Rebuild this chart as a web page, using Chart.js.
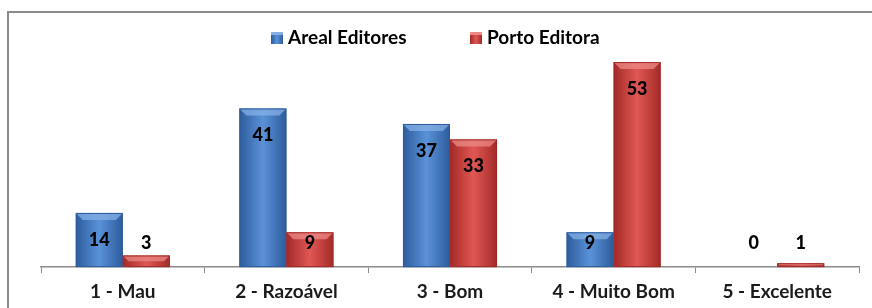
<!DOCTYPE html>
<html>
<head>
<meta charset="utf-8">
<script src="https://cdn.jsdelivr.net/npm/chart.js@4"></script>
<style>
  html, body { margin: 0; padding: 0; background: #fff; }
  #wrap { width: 872px; height: 308px; }
</style>
</head>
<body>
<div id="wrap"><canvas id="chart" width="872" height="308"></canvas></div>
<script>
// categorias e valores
const categories = ["1 - Mau", "2 - Razoável", "3 - Bom", "4 - Muito Bom", "5 - Excelente"];
const seriesNames = ["Areal Editores", "Porto Editora"];
const arealValues = [14, 41, 37, 9, 0];
const portoValues = [3, 9, 33, 53, 1];

const FONT = "Lato, 'Open Sans', sans-serif";

// cores (borda escura, centro, topo claro)
const palette = [
  { edge: "#2d5c9c", mid: "#5a92d8", top: "#86b0e6", solid: "#4a7fc4" },
  { edge: "#a32a27", mid: "#e05754", top: "#ec8987", solid: "#cf4541" }
];

// moldura cinza
const framePlugin = {
  id: "frame",
  beforeDraw(chart) {
    const ctx = chart.ctx;
    ctx.save();
    ctx.strokeStyle = "#8a8a8a";
    ctx.lineWidth = 2;
    ctx.strokeRect(8, 12, 900, 400);
    ctx.restore();
  }
};

// barras com efeito 3D + rótulos
const barPlugin = {
  id: "bevelBars",
  afterDatasetsDraw(chart) {
    const ctx = chart.ctx;
    const zeroY = chart.scales.y.getPixelForValue(0);
    chart.data.datasets.forEach((ds, di) => {
      const meta = chart.getDatasetMeta(di);
      const c = palette[di];
      meta.data.forEach((bar, i) => {
        const w = bar.width;
        const l = bar.x - w / 2, r = bar.x + w / 2;
        const t = bar.y, b = bar.base;
        const h = b - t;
        ctx.save();
        if (h > 0.5) {
          const g = ctx.createLinearGradient(l, 0, r, 0);
          g.addColorStop(0, c.edge);
          g.addColorStop(0.5, c.mid);
          g.addColorStop(1, c.edge);
          ctx.fillStyle = g;
          ctx.fillRect(l, t, w, h);
          const bv = Math.min(7, h / 2);
          ctx.fillStyle = c.top;
          ctx.globalAlpha = 0.75;
          ctx.beginPath();
          ctx.moveTo(l, t);
          ctx.lineTo(r, t);
          ctx.lineTo(r - bv, t + bv);
          ctx.lineTo(l + bv, t + bv);
          ctx.closePath();
          ctx.fill();
          ctx.globalAlpha = 1;
          ctx.strokeStyle = c.edge;
          ctx.lineWidth = 1;
          ctx.strokeRect(l + 0.5, t + 0.5, w - 1, h - 1);
        }
        // rótulo do valor
        const v = ds.data[i];
        const ly = Math.min(t + 27, zeroY - 24);
        ctx.fillStyle = "#000";
        ctx.font = "900 18px " + FONT;
        ctx.textAlign = "center";
        ctx.textBaseline = "middle";
        ctx.fillText(String(v), bar.x, ly);
        ctx.restore();
      });
    });
  }
};

// legenda no topo
const legendPlugin = {
  id: "topLegend",
  afterDraw(chart) {
    const ctx = chart.ctx;
    ctx.save();
    ctx.font = "bold 19px " + FONT;
    ctx.textBaseline = "middle";
    const xs = [271, 470];
    const y = 38;
    seriesNames.forEach((name, i) => {
      const c = palette[i];
      const g = ctx.createLinearGradient(xs[i], 0, xs[i] + 12, 0);
      g.addColorStop(0, c.edge);
      g.addColorStop(0.5, c.mid);
      g.addColorStop(1, c.edge);
      ctx.fillStyle = g;
      ctx.fillRect(xs[i], y - 6, 12, 12);
      ctx.fillStyle = c.top;
      ctx.fillRect(xs[i], y - 6, 12, 3);
      ctx.fillStyle = "#000";
      ctx.textAlign = "left";
      ctx.fillText(name, xs[i] + 17, y);
    });
    ctx.restore();
  }
};

new Chart(document.getElementById("chart"), {
  type: "bar",
  data: {
    labels: categories,
    datasets: [
      { label: seriesNames[0], data: arealValues, backgroundColor: "rgba(0,0,0,0)" },
      { label: seriesNames[1], data: portoValues, backgroundColor: "rgba(0,0,0,0)" }
    ]
  },
  options: {
    responsive: false,
    animation: false,
    events: [],
    categoryPercentage: 0.575,
    barPercentage: 1,
    layout: { padding: { left: 41, right: 13, top: 35, bottom: -2 } },
    scales: {
      x: {
        grid: { drawOnChartArea: false, drawTicks: true, tickLength: 6, color: "#8a8a8a", offset: true },
        border: { display: true, color: "#8a8a8a", width: 1.5 },
        ticks: { color: "#1a1a1a", padding: 8, font: { family: FONT, size: 19, weight: "bold", lineHeight: 1.1 } }
      },
      y: {
        display: false,
        min: 0,
        max: 60
      }
    },
    plugins: {
      legend: { display: false },
      tooltip: { enabled: false }
    }
  },
  plugins: [framePlugin, barPlugin, legendPlugin]
});
</script>
</body>
</html>
